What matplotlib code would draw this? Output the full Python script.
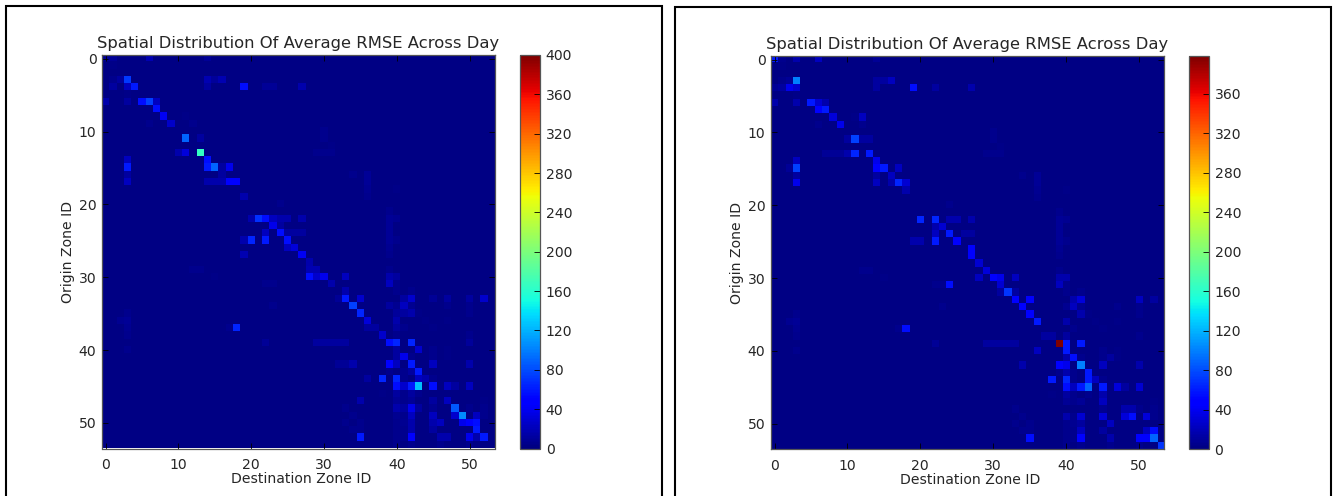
import numpy as np
import matplotlib
matplotlib.use('Agg')
import matplotlib.pyplot as plt
from matplotlib.lines import Line2D

N_ZONES = 54
WIDTH, HEIGHT = 1337, 496

title = 'Spatial Distribution Of Average RMSE Across Day'
xlabel = 'Destination Zone ID'
ylabel = 'Origin Zone ID'
zone_ticks = [0, 10, 20, 30, 40, 50]
left_cbar_ticks = [0, 40, 80, 120, 160, 200, 240, 280, 320, 360, 400]
right_cbar_ticks = [0, 40, 80, 120, 160, 200, 240, 280, 320, 360]
left_vmax = 400
right_vmax = 398
background_rmse = 2

# faint cells seen in both panels (row, col, rmse)
faint_cells = [
    (0, 1, 5), (1, 1, 4), (3, 1, 5), (5, 3, 4), (9, 6, 5), (8, 11, 4), (9, 12, 5), (10, 30, 5),
    (11, 30, 5), (12, 31, 4), (13, 29, 6), (13, 30, 6), (13, 31, 5), (16, 36, 8), (17, 36, 9),
    (18, 36, 7), (16, 34, 5), (19, 36, 6), (21, 39, 5), (22, 39, 8), (22, 40, 7), (23, 39, 9),
    (24, 39, 8), (25, 39, 9), (26, 39, 7), (25, 40, 5), (27, 39, 6), (18, 40, 4), (20, 24, 5),
    (29, 12, 5), (29, 13, 5), (30, 15, 4), (31, 22, 6), (31, 23, 6), (34, 23, 5), (35, 3, 6),
    (36, 2, 7), (36, 3, 8), (37, 3, 7), (38, 3, 5), (40, 3, 5), (39, 22, 8), (37, 17, 5),
    (29, 39, 5), (31, 40, 6), (32, 40, 6), (32, 42, 6), (34, 40, 7), (34, 42, 7), (35, 43, 4),
    (37, 41, 5), (38, 40, 6), (41, 42, 5), (43, 39, 5), (43, 41, 5), (44, 41, 5), (46, 38, 4),
    (46, 41, 5), (46, 43, 5), (47, 40, 8), (47, 41, 6), (47, 42, 8), (48, 45, 7), (48, 50, 6),
    (49, 40, 7), (49, 41, 6), (50, 40, 6), (50, 41, 7), (51, 40, 6), (51, 41, 6), (52, 40, 5),
    (52, 41, 5), (48, 33, 5), (49, 34, 5), (50, 33, 5), (50, 35, 5), (51, 34, 5), (51, 35, 5),
    (47, 52, 4), (48, 52, 5), (49, 52, 5), (41, 45, 5), (41, 47, 4), (36, 47, 4), (38, 50, 5),
    (34, 47, 5), (34, 50, 5), (35, 50, 5), (36, 44, 4), (37, 45, 4), (40, 45, 5), (40, 47, 4),
    (53, 42, 6), (53, 40, 5), (53, 46, 5), (53, 50, 5), (44, 45, 5),
]

# (row, col, rmse)
left_cells = [
    (0, 0, 8), (0, 1, 8), (0, 6, 18), (0, 14, 9),
    (3, 2, 12), (3, 3, 72), (3, 14, 18), (3, 15, 10), (3, 16, 18),
    (4, 1, 12), (4, 3, 22), (4, 4, 60), (4, 14, 12), (4, 19, 55), (4, 27, 16), (4, 22, 9), (4, 23, 9),
    (6, 0, 16), (6, 3, 12), (6, 5, 55), (6, 6, 75), (6, 7, 22),
    (7, 7, 55), (8, 8, 42), (9, 9, 26),
    (11, 11, 90), (11, 13, 12),
    (13, 10, 16), (13, 11, 32), (13, 13, 165),
    (14, 3, 22), (14, 14, 55),
    (15, 3, 60), (15, 14, 60), (15, 15, 90), (15, 16, 12), (15, 17, 38),
    (16, 3, 12), (16, 16, 12),
    (17, 3, 22), (17, 14, 16), (17, 15, 16), (17, 16, 16), (17, 17, 50), (17, 18, 50),
    (19, 19, 16),
    (22, 20, 16), (22, 21, 70), (22, 22, 55), (22, 23, 22), (22, 24, 16), (22, 25, 16), (22, 27, 16),
    (23, 23, 38), (23, 24, 12),
    (24, 22, 22), (24, 24, 55), (24, 25, 12), (24, 26, 12), (24, 27, 12),
    (25, 19, 16), (25, 20, 65), (25, 22, 60), (25, 25, 55),
    (26, 26, 32), (26, 25, 22), (27, 27, 42), (27, 19, 18),
    (28, 28, 16), (29, 28, 18), (29, 29, 18),
    (30, 28, 55), (30, 29, 28), (30, 30, 38), (30, 33, 22), (30, 39, 16), (30, 40, 12),
    (31, 31, 16), (31, 39, 22), (32, 33, 16),
    (33, 32, 8), (33, 33, 60), (33, 35, 28), (33, 41, 12), (33, 42, 28), (33, 45, 8), (33, 47, 12),
    (33, 50, 12), (33, 52, 28),
    (34, 34, 75), (34, 39, 12), (34, 41, 22),
    (35, 35, 65), (35, 40, 10), (35, 41, 12), (35, 42, 16),
    (36, 36, 32), (36, 40, 16),
    (37, 18, 65), (37, 36, 12), (37, 37, 12), (37, 40, 12),
    (38, 38, 28),
    (39, 29, 11), (39, 30, 11), (39, 31, 11), (39, 32, 11), (39, 33, 11),
    (39, 39, 55), (39, 40, 65), (39, 42, 65), (39, 50, 10),
    (40, 40, 12), (40, 43, 28), (41, 40, 12), (41, 41, 38),
    (42, 32, 9), (42, 33, 9), (42, 34, 16), (42, 39, 50), (42, 40, 22), (42, 42, 60), (42, 45, 22), (42, 50, 16),
    (43, 42, 12), (43, 43, 60),
    (44, 36, 12), (44, 38, 65), (44, 40, 65), (44, 43, 22), (44, 44, 16),
    (45, 40, 55), (45, 41, 28), (45, 42, 60), (45, 43, 125), (45, 45, 55), (45, 47, 22), (45, 48, 12), (45, 50, 22),
    (46, 40, 12), (46, 42, 12),
    (47, 35, 16), (47, 45, 12), (47, 47, 22),
    (48, 40, 16), (48, 41, 12), (48, 42, 38), (48, 43, 12), (48, 48, 85),
    (49, 42, 22), (49, 45, 22), (49, 48, 28), (49, 49, 105), (49, 51, 22),
    (50, 42, 16), (50, 45, 16), (50, 46, 22), (50, 49, 38), (50, 50, 45), (50, 51, 55),
    (51, 42, 16), (51, 45, 12), (51, 51, 60),
    (52, 35, 60), (52, 42, 45), (52, 46, 16), (52, 47, 16), (52, 50, 38), (52, 51, 16), (52, 52, 60),
]

# (row, col, rmse)
right_cells = [
    (0, 0, 60), (0, 3, 16), (0, 6, 22), (0, 14, 9),
    (3, 2, 8), (3, 3, 100), (3, 14, 12), (3, 15, 12), (3, 16, 22),
    (4, 0, 8), (4, 1, 12), (4, 2, 38), (4, 3, 28), (4, 14, 12), (4, 19, 55), (4, 22, 12), (4, 27, 16),
    (6, 0, 16), (6, 3, 16), (6, 5, 60), (6, 6, 28), (6, 7, 16),
    (7, 6, 50), (7, 7, 60), (8, 8, 32), (8, 12, 22), (9, 9, 38),
    (11, 10, 12), (11, 11, 75), (11, 12, 12), (11, 13, 12),
    (13, 7, 9), (13, 8, 9), (13, 9, 9), (13, 10, 16), (13, 11, 65), (13, 13, 60),
    (14, 3, 22), (14, 14, 38),
    (15, 2, 8), (15, 3, 75), (15, 14, 50), (15, 15, 60), (15, 17, 22),
    (16, 3, 12), (16, 14, 12), (16, 16, 22),
    (17, 3, 38), (17, 14, 22), (17, 16, 16), (17, 17, 65), (17, 18, 28),
    (18, 18, 16),
    (22, 20, 65), (22, 22, 65), (22, 24, 16), (22, 25, 16), (22, 27, 16),
    (23, 22, 16), (23, 23, 28),
    (24, 22, 22), (24, 24, 60), (24, 26, 12), (24, 27, 12),
    (25, 19, 16), (25, 20, 16), (25, 22, 60), (25, 25, 45),
    (26, 27, 50), (27, 27, 50), (28, 28, 28), (29, 29, 32),
    (30, 28, 22), (30, 30, 50), (30, 31, 38), (30, 33, 22), (30, 39, 16), (30, 40, 16),
    (31, 31, 28), (31, 24, 55), (31, 39, 22),
    (32, 31, 12), (32, 32, 70), (32, 33, 12),
    (33, 33, 50), (33, 35, 45), (33, 41, 16), (33, 42, 32), (33, 50, 22), (33, 52, 12),
    (34, 34, 45), (34, 41, 22), (35, 35, 50), (35, 42, 16),
    (36, 36, 60), (36, 40, 16),
    (37, 18, 55), (38, 37, 12), (38, 38, 12), (38, 40, 12),
    (39, 29, 11), (39, 30, 11), (39, 31, 11), (39, 32, 11), (39, 33, 11),
    (39, 39, 398), (39, 40, 60), (39, 42, 60),
    (40, 36, 22), (40, 40, 60), (41, 40, 16), (41, 41, 55), (41, 46, 12),
    (42, 34, 16), (42, 39, 50), (42, 40, 38), (42, 42, 100), (42, 45, 22), (42, 50, 16),
    (43, 40, 16), (43, 43, 60),
    (44, 38, 60), (44, 40, 65), (44, 43, 60), (44, 44, 22),
    (45, 40, 55), (45, 41, 22), (45, 42, 60), (45, 43, 90), (45, 45, 60), (45, 47, 32), (45, 48, 12), (45, 50, 28),
    (46, 40, 12), (46, 45, 16), (47, 45, 22),
    (48, 48, 16), (48, 49, 16),
    (49, 40, 16), (49, 42, 28), (49, 45, 32), (49, 48, 32), (49, 49, 55), (49, 51, 32),
    (50, 42, 12), (50, 46, 22), (51, 42, 22), (51, 45, 12), (51, 51, 22), (51, 52, 55),
    (52, 35, 55), (52, 42, 50), (52, 46, 16), (52, 50, 50), (52, 51, 50), (52, 52, 90),
    (53, 53, 70),
]

plt.rcParams['font.family'] = 'DejaVu Sans'
plt.rcParams['text.color'] = '#262626'
plt.rcParams['axes.labelcolor'] = '#262626'
plt.rcParams['xtick.labelcolor'] = '#262626'
plt.rcParams['ytick.labelcolor'] = '#262626'


def px_axes(fig, left, top, right, bottom):
    return fig.add_axes([left / WIDTH, 1 - bottom / HEIGHT, (right - left) / WIDTH, (bottom - top) / HEIGHT])


def build_grid(cells):
    grid = np.full((N_ZONES, N_ZONES), float(background_rmse))
    for r, c, v in faint_cells + cells:
        grid[r, c] = v
    return grid


def draw_panel(fig, cells, vmax, cbar_ticks, box, cbar_box):
    ax = px_axes(fig, *box)
    im = ax.imshow(build_grid(cells), cmap='jet', vmin=0, vmax=vmax, interpolation='nearest', aspect='auto')
    ax.set_xticks(zone_ticks)
    ax.set_yticks(zone_ticks)
    ax.tick_params(direction='in', top=True, right=True, length=4, width=0.6, labelsize=10.1)
    ax.tick_params(axis='x', pad=7)
    ax.tick_params(axis='y', pad=4)
    ax.set_title(title, fontsize=11.8, pad=5)
    ax.set_xlabel(xlabel, fontsize=10.1, labelpad=0, x=0.508)
    ax.set_ylabel(ylabel, fontsize=10.1, labelpad=3)
    for s in ax.spines.values():
        s.set_linewidth(0.9)
        s.set_color('#555555')

    cax = px_axes(fig, *cbar_box)
    cbar = fig.colorbar(im, cax=cax, ticks=cbar_ticks)
    cbar.ax.tick_params(direction='in', length=4, width=0.6, labelsize=10.1, pad=4)
    cbar.outline.set_linewidth(0.9)
    cbar.outline.set_edgecolor('#555555')


def frame(fig, left, top, right):
    # screenshot frame, open at the bottom of the picture
    xs = np.array([left, left, right, right]) / WIDTH
    ys = 1 - np.array([HEIGHT, top, top, HEIGHT]) / HEIGHT
    fig.add_artist(Line2D(xs, ys, color='black', linewidth=1.5, solid_joinstyle='miter'))


fig = plt.figure(figsize=(WIDTH / 100, HEIGHT / 100), dpi=100)
frame(fig, 6, 5.5, 661.5)
frame(fig, 675.5, 6.5, 1331)
draw_panel(fig, left_cells, left_vmax, left_cbar_ticks, (102, 55, 495, 448.5), (520, 55, 540.3, 448.5))
draw_panel(fig, right_cells, right_vmax, right_cbar_ticks, (771, 56, 1164, 449.3), (1189, 56, 1209, 449.3))
fig.savefig('out.png', dpi=100)
plt.close(fig)
